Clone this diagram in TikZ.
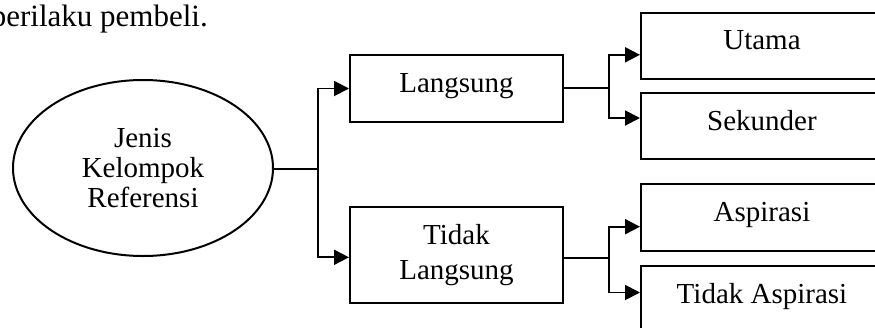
\documentclass[tikz,border=0pt]{standalone}
\usepackage{fontspec}
\setmainfont{Liberation Serif}
\usetikzlibrary{arrows.meta,shapes.geometric}

\tikzset{
  txt/.style={font=\fontsize{29}{35}\selectfont},
  box/.style={draw, line width=2pt, fill=white, txt, inner sep=0pt,
              text height=20pt, text depth=12pt},
  mainbox/.style={box, minimum width=213pt},
  leafbox/.style={box, minimum width=242pt, minimum height=66.5pt},
  link/.style={line width=1.9pt},
  arrow/.style={link, -{Triangle[length=15pt,width=15pt]}}
}

\begin{document}
\begin{tikzpicture}[x=1pt,y=-1pt]
  \useasboundingbox (0,0) rectangle (875,327);
  \clip (0,0) rectangle (875,327);
  \fill[white] (0,0) rectangle (875,327);

  % closing words of the preceding paragraph
  \node[font=\fontsize{31}{36}\selectfont, anchor=base east, inner sep=0pt]
        (para) at (208,26) {perilaku pembeli.};

  % root
  \node[ellipse, draw, line width=2pt, minimum width=260pt, minimum height=176pt,
        inner sep=0pt, align=center, font=\fontsize{29}{30}\selectfont]
        (root) at (143,168) {Jenis\\Kelompok\\Referensi};

  % first level
  \node[mainbox, minimum height=67pt] (lang) at (456.5,88.5) {Langsung};
  \node[draw, line width=2pt, fill=white, txt, inner sep=0pt, align=center,
        minimum width=213pt, minimum height=96pt]
        (tlang) at (456.5,255.3) {Tidak\\Langsung};

  % second level
  \node[leafbox] (utama) at (762,45.8) {Utama};
  \node[leafbox] (sek)   at (762,126)  {Sekunder};
  \node[leafbox] (asp)   at (762,217.7) {Aspirasi};
  \node[leafbox] (tasp)  at (762,299)  {Tidak Aspirasi};

  % junction points
  \coordinate (j1) at (318,169);
  \coordinate (j2) at (609,88);
  \coordinate (j3) at (609,258);

  % root to first level
  \draw[link] (root.east |- j1) -- (j1);
  \draw[arrow] (j1) |- (lang.west);
  \draw[arrow] (j1) |- ([yshift=-2pt]tlang.west);

  % Langsung branch
  \draw[link] (lang.east |- j2) -- (j2);
  \draw[arrow] (j2) |- ([yshift=-9pt]utama.west);
  \draw[arrow] (j2) |- ([yshift=8pt]sek.west);

  % Tidak Langsung branch
  \draw[link] (tlang.east |- j3) -- (j3);
  \draw[arrow] (j3) |- ([yshift=-9pt]asp.west);
  \draw[arrow] (j3) |- ([yshift=6.5pt]tasp.west);
\end{tikzpicture}
\end{document}
